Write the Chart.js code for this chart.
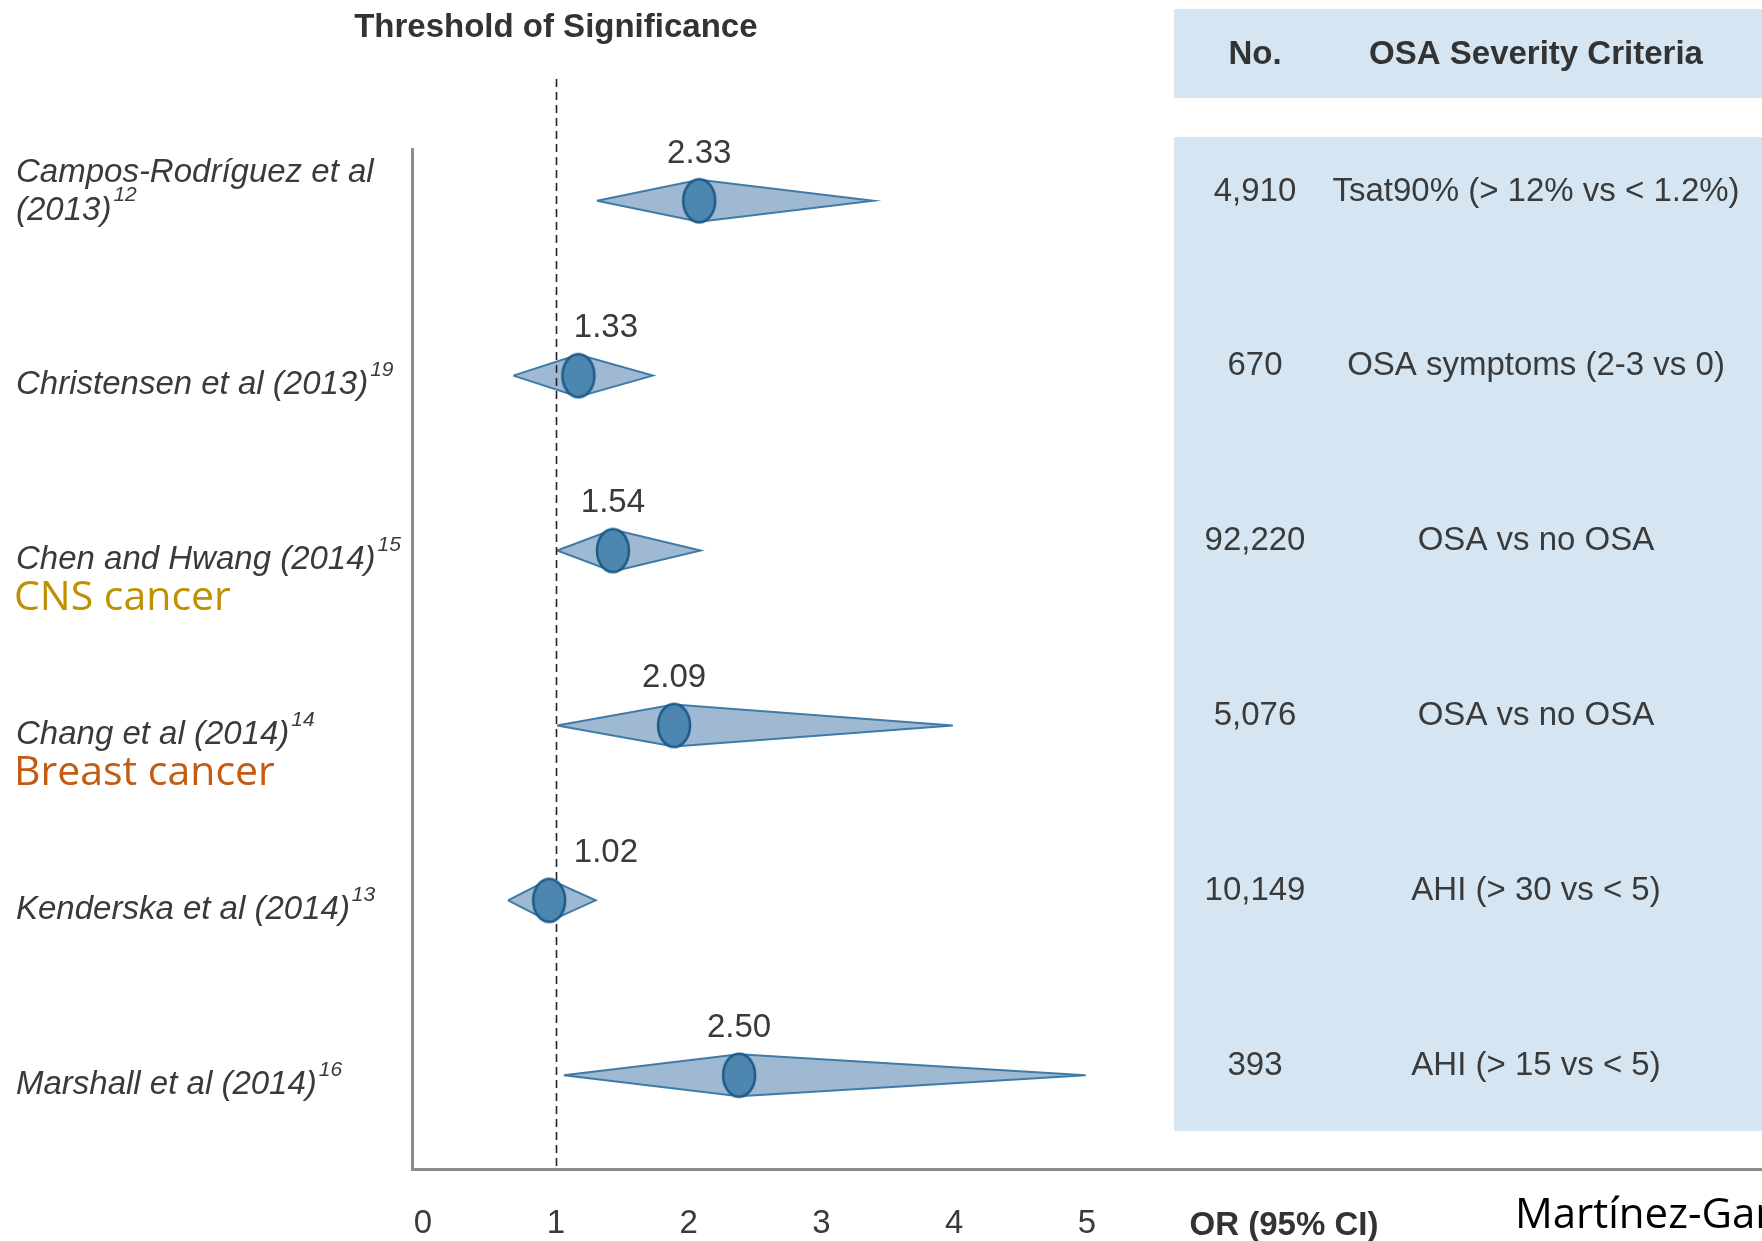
<!DOCTYPE html>
<html lang="en">
<head>
<meta charset="utf-8">
<title>OSA and cancer incidence - forest plot</title>
<script src="https://cdn.jsdelivr.net/npm/chart.js@4.4.1/dist/chart.umd.min.js"></script>
<style>
  html, body { margin: 0; padding: 0; background: #ffffff; }
  canvas { display: block; }
</style>
</head>
<body>
<canvas id="forest" width="1762" height="1241"></canvas>
<script>
// rows, top to bottom
const studyNames = ['Campos-Rodríguez et al', 'Christensen et al', 'Chen and Hwang', 'Chang et al', 'Kenderska et al', 'Marshall et al']
const studyYears = ['(2013)', '(2013)', '(2014)', '(2014)', '(2014)', '(2014)']
const refNumbers = ['12', '19', '15', '14', '13', '16']
const cancerTypes = ['', '', 'CNS cancer', 'Breast cancer', '', '']

// odds ratios: printed value, and where the marker sits on the axis
const orLabels = ['2.33', '1.33', '1.54', '2.09', '1.02', '2.50']
const orDrawn = [2.08, 1.17, 1.43, 1.89, 0.95, 2.38]
const ciLow = [1.31, 0.68, 1.01, 1.01, 0.64, 1.06]
const ciHigh = [3.39, 1.73, 2.09, 3.99, 1.30, 4.99]

// table on the right
const sampleSizes = ['4,910', '670', '92,220', '5,076', '10,149', '393']
const criteria = ['Tsat90% (> 12% vs < 1.2%)', 'OSA symptoms (2-3 vs 0)', 'OSA vs no OSA', 'OSA vs no OSA', 'AHI (> 30 vs < 5)', 'AHI (> 15 vs < 5)']

const xTicks = [0, 1, 2, 3, 4, 5]
const threshold = 1

const SANS = '"Liberation Sans", Arial, Helvetica, sans-serif'
const SLIDE = '"Open Sans", "Noto Sans", sans-serif'
const TEXT = '#3a3a3a'
const AXIS_GREY = '#8c8c8c'
const PANEL_BLUE = '#d5e6f2'
const DIAMOND_FILL = '#a0b9d2'
const DIAMOND_EDGE = '#3f7ba7'
const ROW_HALF = 0.12 // half height of a diamond, in rows

function makeEllipse() {
    const c = document.createElement('canvas')
    c.width = 38
    c.height = 48
    const g = c.getContext('2d')
    g.beginPath()
    g.ellipse(19, 24, 16, 21.5, 0, 0, Math.PI * 2)
    g.fillStyle = '#4d86af'
    g.fill()
    g.lineWidth = 2.5
    g.strokeStyle = '#1c5b89'
    g.stroke()
    return c
}

const diamondSets = studyNames.map((name, i) => ({
    label: name,
    data: [
        { x: ciLow[i], y: i },
        { x: orDrawn[i], y: i - ROW_HALF },
        { x: ciHigh[i], y: i },
        { x: orDrawn[i], y: i + ROW_HALF },
        { x: ciLow[i], y: i }
    ],
    showLine: true,
    fill: 'shape',
    backgroundColor: DIAMOND_FILL,
    borderColor: DIAMOND_EDGE,
    borderWidth: 2,
    pointRadius: 0,
    tension: 0,
    order: 1
}))

const pointSet = {
    label: 'OR',
    data: orDrawn.map((x, i) => ({ x: x, y: i })),
    showLine: false,
    pointStyle: makeEllipse(),
    pointRadius: 10,
    order: 0
}
const pointIndex = diamondSets.length

function txt(ctx, s, x, yMid, size, font, color, align) {
    ctx.font = font
    ctx.fillStyle = color
    ctx.textAlign = align || 'left'
    ctx.textBaseline = 'alphabetic'
    ctx.fillText(s, x, yMid + size * 0.36)
}

function studyLabel(ctx, i, y) {
    const left = 16
    const f = `italic 33px ${SANS}`
    const sf = `italic 21px ${SANS}`
    ctx.font = f
    let line = studyNames[i] + ' ' + studyYears[i]
    let lineY = y + 7
    if (ctx.measureText(line).width > 360) {
        txt(ctx, studyNames[i], left, lineY - 38, 33, f, TEXT)
        line = studyYears[i]
    }
    txt(ctx, line, left, lineY, 33, f, TEXT)
    ctx.font = f
    const w = ctx.measureText(line).width
    txt(ctx, refNumbers[i], left + w + 2, lineY - 14, 21, sf, TEXT)
    if (cancerTypes[i]) {
        const col = i === 2 ? '#bf9000' : '#c55a11'
        txt(ctx, cancerTypes[i], left - 2, lineY + 38, 41, `41px ${SLIDE}`, col)
    }
}

const decorations = {
    id: 'decorations',
    beforeDraw(chart) {
        const ctx = chart.ctx
        ctx.save()
        ctx.fillStyle = PANEL_BLUE
        ctx.fillRect(1174, 9, 588, 89)
        ctx.fillRect(1174, 137, 588, 994)
        ctx.restore()
    },
    beforeDatasetDraw(chart, args) {
        if (args.index !== pointIndex) return
        const ctx = chart.ctx
        const x = Math.round(chart.scales.x.getPixelForValue(threshold)) + 0.5
        ctx.save()
        ctx.strokeStyle = '#222'
        ctx.lineWidth = 1.6
        ctx.setLineDash([8, 5])
        ctx.beginPath()
        ctx.moveTo(x, 79)
        ctx.lineTo(x, chart.chartArea.bottom)
        ctx.stroke()
        ctx.restore()
    },
    afterDraw(chart) {
        const ctx = chart.ctx
        const xs = chart.scales.x
        const ys = chart.scales.y
        const x1 = xs.getPixelForValue(threshold)
        ctx.save()

        txt(ctx, 'Threshold of Significance', x1, 25, 33, `bold 33px ${SANS}`, '#333', 'center')

        // table header
        txt(ctx, 'No.', 1255, 52, 33, `bold 33px ${SANS}`, '#333', 'center')
        txt(ctx, 'OSA Severity Criteria', 1536, 52, 33, `bold 33px ${SANS}`, '#333', 'center')

        studyNames.forEach((name, i) => {
            const y = ys.getPixelForValue(i)
            studyLabel(ctx, i, y)

            // value above each marker, nudged off the dashed line
            ctx.font = `33px ${SANS}`
            const w = ctx.measureText(orLabels[i]).width
            let cx = xs.getPixelForValue(orDrawn[i])
            if (cx - w / 2 < x1 + 8) cx = x1 + 18 + w / 2
            txt(ctx, orLabels[i], cx, y - 50, 33, `33px ${SANS}`, TEXT, 'center')

            txt(ctx, sampleSizes[i], 1255, y - 12, 33, `33px ${SANS}`, TEXT, 'center')
            txt(ctx, criteria[i], 1536, y - 12, 33, `33px ${SANS}`, TEXT, 'center')
        })

        txt(ctx, 'OR (95% CI)', 1284, 1223, 33, `bold 33px ${SANS}`, '#333', 'center')
        txt(ctx, 'Martínez-García', 1515, 1213, 42, `42px ${SLIDE}`, '#000')
        ctx.restore()
    }
}

const chart = new Chart(document.getElementById('forest'), {
    type: 'line',
    data: { datasets: [...diamondSets, pointSet] },
    options: {
        responsive: false,
        animation: false,
        layout: { autoPadding: false, padding: { left: 412, top: 149, right: 0, bottom: 0 } },
        plugins: { legend: { display: false }, tooltip: { enabled: false } },
        scales: {
            x: {
                type: 'linear',
                position: 'bottom',
                min: -0.083,
                max: 10.083,
                afterBuildTicks: (scale) => { scale.ticks = xTicks.map(v => ({ value: v })) },
                afterFit: (scale) => { scale.height = 72 },
                ticks: { color: TEXT, padding: 35, font: { family: SANS, size: 33 } },
                grid: { display: false, drawTicks: false },
                border: { display: true, color: AXIS_GREY, width: 3 }
            },
            y: {
                type: 'linear',
                reverse: true,
                min: -0.2956,
                max: 5.536,
                afterFit: (scale) => { scale.width = 0 },
                ticks: { display: false },
                grid: { display: false, drawTicks: false },
                border: { display: true, color: AXIS_GREY, width: 3 }
            }
        }
    },
    plugins: [decorations]
})
</script>
</body>
</html>
